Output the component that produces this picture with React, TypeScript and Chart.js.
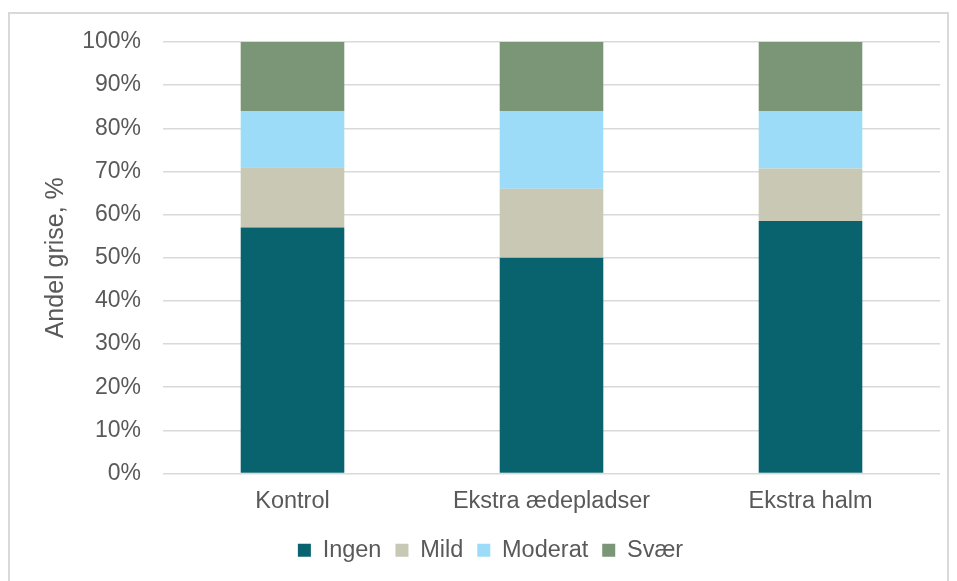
import React, { useEffect, useRef } from "react";
import { Chart, registerables } from "chart.js";

Chart.register(...registerables);

const categories = ["Kontrol", "Ekstra ædepladser", "Ekstra halm"];
const ingen = [57, 50, 58.5];
const mild = [14, 16, 12.2];
const moderat = [13, 18, 13.3];
const svaer = [16, 16, 16];
const seriesNames = ["Ingen", "Mild", "Moderat", "Svær"];
const seriesColors = ["#08636E", "#C8C8B4", "#9CDCF8", "#7A9676"];
const yTitle = "Andel grise, %";

const FONT = "'Liberation Sans', Arial, sans-serif";
const TEXT = "#595959";

export default function App() {
  const ref = useRef<HTMLCanvasElement | null>(null);
  useEffect(() => {
    if (!ref.current) return;
    const values = [ingen, mild, moderat, svaer];
    const chart = new Chart(ref.current, {
      type: "bar",
      data: {
        labels: categories,
        datasets: values.map((v, i) => ({
          label: seriesNames[i],
          data: v,
          backgroundColor: seriesColors[i],
          borderWidth: 0,
          barPercentage: 0.4,
          categoryPercentage: 1,
        })),
      },
      options: {
        animation: false,
        responsive: true,
        maintainAspectRatio: false,
        layout: { padding: { left: 31, right: 7, top: 28, bottom: 18 } },
        plugins: {
          tooltip: { enabled: false },
          legend: {
            position: "bottom",
            labels: {
              boxWidth: 13,
              boxHeight: 13,
              padding: 14,
              color: TEXT,
              font: { family: FONT, size: 23.5 },
            },
          },
        },
        scales: {
          x: {
            stacked: true,
            grid: { display: false },
            border: { display: false },
            ticks: {
              color: TEXT,
              padding: 6,
              font: { family: FONT, size: 23.5 },
              maxRotation: 0,
            },
            afterFit: (s: any) => {
              s.height = 51;
            },
          },
          y: {
            stacked: true,
            min: 0,
            max: 100,
            grid: { color: "#d9d9d9", lineWidth: 1.5, drawTicks: false },
            border: { display: false },
            ticks: {
              stepSize: 10,
              padding: 22,
              color: TEXT,
              font: { family: FONT, size: 23 },
              callback: (v: any) => v + "%",
            },
            title: {
              display: true,
              text: yTitle,
              color: TEXT,
              padding: 0,
              font: { family: FONT, size: 25 },
            },
            afterFit: (s: any) => {
              s.width = 122;
              s.paddingTop = 0;
              s.paddingBottom = 0;
            },
          },
        },
      },
    });
    return () => chart.destroy();
  }, []);
  return (
    <div
      style={{
        marginTop: 4,
        width: 941,
        height: 580,
        border: "2px solid #d9d9d9",
        boxSizing: "border-box",
        position: "relative",
        background: "#fff",
      }}
    >
      <canvas ref={ref} />
    </div>
  );
}
